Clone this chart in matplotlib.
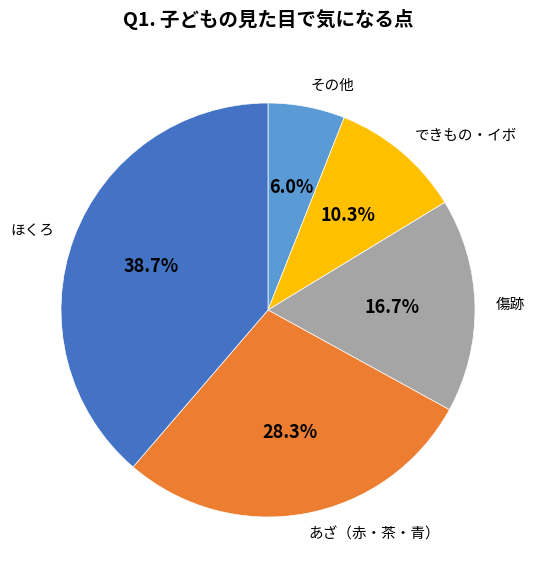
import matplotlib
matplotlib.use("Agg")
import matplotlib.pyplot as plt

plt.rcParams['font.family'] = ['Noto Sans CJK JP', 'DejaVu Sans']

categories = ["その他", "できもの・イボ", "傷跡", "あざ（赤・茶・青）", "ほくろ"]
values = [6.0, 10.3, 16.7, 28.3, 38.7]
colors = ["#5B9BD5", "#FFC000", "#A5A5A5", "#ED7D31", "#4472C4"]
title = "Q1. 子どもの見た目で気になる点"

fig = plt.figure(figsize=(5.36, 5.78), dpi=100)
ax = fig.add_axes([61/536, (578-517)/578, 414/536, 414/578])
wedges, texts, autotexts = ax.pie(
    values, labels=categories, colors=colors, startangle=90, counterclock=False,
    autopct=lambda p: f"{p:.1f}%", pctdistance=0.6, labeldistance=1.1,
    wedgeprops=dict(edgecolor="white", linewidth=0.5), radius=1.0,
)
for t in texts:
    t.set_fontsize(10.5)
    t.set_color("#000000")
for t in autotexts:
    t.set_fontsize(13)
    t.set_fontweight("bold")
    t.set_color("#000000")
ax.set_xlim(-1, 1)
ax.set_ylim(-1, 1)
ax.set_aspect("equal")
ax.axis("off")

fig.text(0.5, 1 - 20/578, title, ha="center", va="center", fontsize=14, fontweight="bold")

fig.savefig("out.png", dpi=100)
